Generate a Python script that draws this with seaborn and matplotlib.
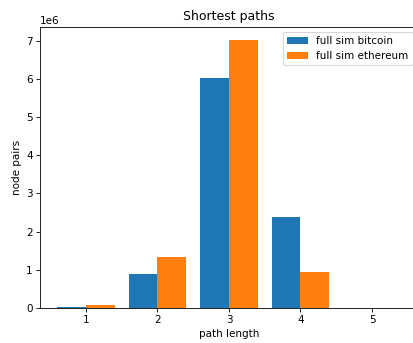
import matplotlib
matplotlib.use("Agg")
import matplotlib.pyplot as plt
import seaborn as sns
import pandas as pd

path_lengths = ["1", "2", "3", "4", "5"]
bitcoin = [0.03e6, 0.885e6, 6.04e6, 2.37e6, 0.0]
ethereum = [0.06e6, 1.33e6, 7.03e6, 0.93e6, 0.0]
series_names = ["full sim bitcoin", "full sim ethereum"]

df = pd.DataFrame({
    "path length": path_lengths * 2,
    "node pairs": bitcoin + ethereum,
    "series": [series_names[0]] * len(path_lengths) + [series_names[1]] * len(path_lengths),
})

DPI = 75
fig = plt.figure(figsize=(414 / DPI, 343 / DPI), dpi=DPI)
ax = fig.add_axes([0.0971, 0.1029, 0.912, 0.8193])
sns.barplot(data=df, x="path length", y="node pairs", hue="series",
            palette=["#1f77b4", "#ff7f0e"], saturation=1, width=0.8,
            order=path_lengths, hue_order=series_names, ax=ax, linewidth=0, edgecolor="none")
ax.set_xlim(-0.64, 4.64)
ax.set_ylim(0, 7.03e6 * 1.05)
ax.set_title("Shortest paths")
ax.set_xlabel("path length")
ax.set_ylabel("node pairs")
ax.legend(loc="upper right", title=None)
fig.savefig("out.png", dpi=DPI)
